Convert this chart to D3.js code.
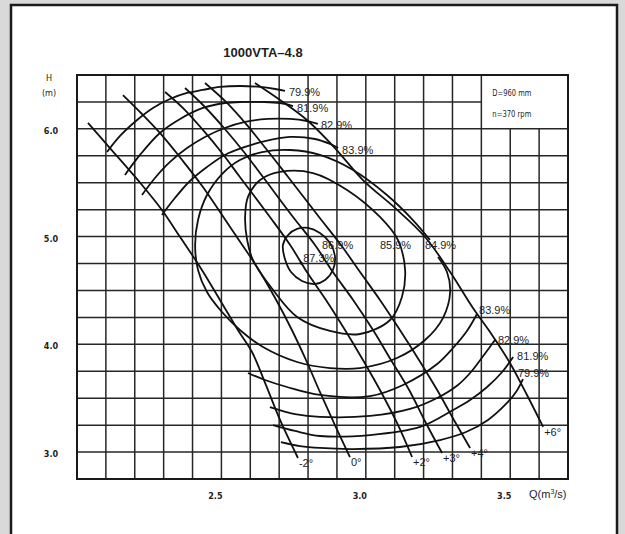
<!DOCTYPE html>
<html><head><meta charset="utf-8">
<script src="https://cdn.jsdelivr.net/npm/d3@7"></script>
<style>
html,body{margin:0;padding:0;background:#d9d9d9;}
svg{display:block;}
text{font-family:"Liberation Sans",Arial,sans-serif;fill:#1e1e1e;}
.narrow{font-family:"Liberation Sans Narrow","Arial Narrow","DejaVu Sans Condensed",sans-serif;}
</style></head>
<body>
<svg id="chart" width="625" height="534"></svg>
<script>
// ---------------- DATA ----------------
const title = "1000VTA\u20134.8";
const qTickLabels = [2.5, 3.0, 3.5];
const hTickLabels = [3.0, 4.0, 5.0, 6.0];
const specs = ["D=960 mm", "n=370 rpm"];

// blade-angle lines [Q (m3/s), H (m)]
const bladeLabels = ["-2\u00b0", "0\u00b0", "+2\u00b0", "+3\u00b0", "+4\u00b0", "+6\u00b0"];
const bladeM2 = [[2.038,6.055],[2.114,5.822],[2.225,5.479],[2.294,5.247],[2.357,4.996],[2.426,4.718],[2.495,4.412],[2.557,4.133],[2.606,3.929],[2.654,3.623],[2.703,3.298],[2.765,2.945]];
const blade0 = [[2.159,6.314],[2.225,6.138],[2.287,5.962],[2.364,5.711],[2.436,5.460],[2.530,5.089],[2.623,4.718],[2.686,4.430],[2.744,4.133],[2.796,3.836],[2.841,3.558],[2.893,3.251],[2.945,2.954]];
const bladeP2 = [[2.305,6.342],[2.374,6.175],[2.436,5.990],[2.502,5.776],[2.564,5.553],[2.668,5.182],[2.738,4.922],[2.796,4.671],[2.862,4.412],[2.928,4.133],[2.990,3.855],[3.049,3.576],[3.108,3.270],[3.160,2.954]];
const bladeP3 = [[2.374,6.379],[2.443,6.203],[2.509,6.008],[2.578,5.785],[2.644,5.553],[2.748,5.182],[2.824,4.922],[2.886,4.671],[2.956,4.412],[3.025,4.133],[3.087,3.855],[3.150,3.576],[3.208,3.270],[3.264,2.991]];
const bladeP4 = [[2.443,6.426],[2.516,6.250],[2.585,6.046],[2.658,5.804],[2.731,5.553],[2.838,5.182],[2.914,4.922],[2.980,4.671],[3.049,4.412],[3.118,4.133],[3.184,3.855],[3.247,3.576],[3.305,3.298],[3.361,3.038]];
const bladeP6 = [[2.616,6.426],[2.703,6.268],[2.796,6.082],[2.893,5.822],[2.990,5.525],[3.101,5.266],[3.205,4.996],[3.292,4.671],[3.371,4.337],[3.437,4.087],[3.499,3.827],[3.558,3.530],[3.614,3.233]];

// efficiency contours
const effLabels = ["79.9%", "81.9%", "82.9%", "83.9%", "84.9%", "85.9%", "86.9%", "87.3%"];
const eff799Top = [[2.104,5.785],[2.149,5.934],[2.208,6.082],[2.263,6.194],[2.322,6.277],[2.381,6.333],[2.436,6.361],[2.495,6.389],[2.564,6.398],[2.634,6.389],[2.686,6.370],[2.720,6.352]];
const eff819Top = [[2.166,5.572],[2.218,5.758],[2.287,5.962],[2.357,6.092],[2.436,6.194],[2.512,6.240],[2.575,6.250],[2.641,6.250],[2.703,6.240],[2.748,6.212]];
const eff829Top = [[2.225,5.386],[2.270,5.544],[2.322,5.693],[2.381,5.822],[2.443,5.925],[2.512,6.008],[2.582,6.064],[2.661,6.092],[2.738,6.092],[2.796,6.073],[2.834,6.046]];
const eff839Top = [[2.294,5.201],[2.339,5.358],[2.391,5.516],[2.450,5.646],[2.512,5.758],[2.582,5.832],[2.651,5.887],[2.738,5.925],[2.824,5.906],[2.876,5.860],[2.904,5.822]];
const eff839Bot = [[2.592,3.734],[2.651,3.669],[2.727,3.604],[2.841,3.530],[3.015,3.520],[3.129,3.623],[3.247,3.817],[3.302,3.966],[3.350,4.124],[3.385,4.282]];
const eff829Bot = [[2.668,3.418],[2.755,3.353],[2.841,3.326],[3.015,3.335],[3.153,3.400],[3.247,3.502],[3.319,3.623],[3.361,3.734],[3.409,3.901],[3.447,4.040]];
const eff819Bot = [[2.679,3.251],[2.755,3.196],[2.841,3.149],[3.015,3.158],[3.188,3.233],[3.302,3.390],[3.361,3.483],[3.420,3.604],[3.472,3.743],[3.510,3.882]];
const eff799Bot = [[2.706,3.093],[2.772,3.056],[2.841,3.038],[2.956,3.028],[3.118,3.047],[3.257,3.112],[3.347,3.186],[3.423,3.298],[3.482,3.437],[3.520,3.558],[3.544,3.678]];
const eff849 = [[3.222,4.969],[3.163,5.154],[3.073,5.386],[2.956,5.618],[2.841,5.758],[2.738,5.804],[2.641,5.785],[2.564,5.711],[2.502,5.581],[2.450,5.386],[2.419,5.154],[2.409,4.922],[2.419,4.690],[2.450,4.486],[2.502,4.300],[2.564,4.133],[2.644,3.975],[2.762,3.836],[2.876,3.780],[2.980,3.780],[3.108,3.873],[3.205,4.040],[3.267,4.244],[3.292,4.486],[3.281,4.671],[3.250,4.811]];
const eff859 = [[3.111,4.969],[3.049,5.182],[2.935,5.433],[2.817,5.590],[2.703,5.600],[2.634,5.525],[2.592,5.368],[2.582,5.182],[2.589,4.969],[2.609,4.783],[2.679,4.504],[2.762,4.254],[2.876,4.124],[2.980,4.096],[3.084,4.226],[3.125,4.439],[3.136,4.690]];
const eff869 = [[2.713,4.922],[2.731,5.015],[2.762,5.071],[2.800,5.080],[2.841,5.033],[2.876,4.941],[2.893,4.820],[2.886,4.690],[2.859,4.597],[2.824,4.560],[2.779,4.588],[2.741,4.671],[2.720,4.792]];
const bestPoint = [2.776, 4.755];

// ---------------- CHART ----------------
const svg = d3.select("#chart");
const x = d3.scaleLinear().domain([2.0, 3.7]).range([77, 568]);
const y = d3.scaleLinear().domain([2.75, 6.5]).range([479, 75]);

// page
svg.append("rect").attr("x",0).attr("y",0).attr("width",625).attr("height",534).attr("fill","#d9d9d9");
svg.append("rect").attr("x",11).attr("y",5).attr("width",606).attr("height",540)
  .attr("fill","#fff").attr("stroke","#1b1b1b").attr("stroke-width",2.5);

// title
svg.append("text").attr("x",263).attr("y",57).attr("text-anchor","middle")
  .attr("font-size",13).attr("font-weight","bold").text(title);

// grid
const g = svg.append("g");
const gridColor = "#262626";
const boxQ = 3.4, boxH = 6.0;
d3.range(1,17).map(i => 2.0 + i*0.1).forEach(q => {
  const top = q > boxQ + 0.05 ? y(boxH) : y(6.5);
  g.append("line").attr("x1",x(q)).attr("x2",x(q)).attr("y1",top).attr("y2",y(2.75))
    .attr("stroke",gridColor).attr("stroke-width",1.5);
});
d3.range(1,15).map(i => 2.75 + i*0.25).forEach(h => {
  const right = h > boxH + 0.1 ? x(boxQ) : x(3.7);
  g.append("line").attr("x1",x(2.0)).attr("x2",right).attr("y1",y(h)).attr("y2",y(h))
    .attr("stroke",gridColor).attr("stroke-width",1.5);
});
g.append("rect").attr("x",x(2.0)).attr("y",y(6.5)).attr("width",x(3.7)-x(2.0)).attr("height",y(2.75)-y(6.5))
  .attr("fill","none").attr("stroke","#1a1a1a").attr("stroke-width",2);

// spec box text
specs.forEach((s,i) => {
  svg.append("text").attr("class","narrow").attr("x",x(boxQ)+11).attr("y",y(6.5)+21+i*21)
    .attr("font-size",9).attr("textLength",39).attr("lengthAdjust","spacingAndGlyphs").text(s);
});

// axis labels
qTickLabels.forEach(q => {
  svg.append("text").attr("class","narrow").attr("x",x(q)-6).attr("y",499)
    .attr("text-anchor","middle").attr("font-size",9).attr("font-weight","bold").text(d3.format(".1f")(q));
});
hTickLabels.forEach(h => {
  svg.append("text").attr("class","narrow").attr("x",51).attr("y",y(h)+5)
    .attr("text-anchor","middle").attr("font-size",9).attr("font-weight","bold").text(d3.format(".1f")(h));
});
svg.append("text").attr("class","narrow").attr("x",49).attr("y",81).attr("text-anchor","middle").attr("font-size",9).text("H");
svg.append("text").attr("class","narrow").attr("x",49).attr("y",96).attr("text-anchor","middle").attr("font-size",9).text("(m)");
const qt = svg.append("text").attr("x",529).attr("y",498).attr("font-size",11);
qt.append("tspan").text("Q(m");
qt.append("tspan").attr("font-size",7).attr("dy",-4).text("3");
qt.append("tspan").attr("dy",4).text("/s)");

// curves
const line = d3.line().x(d => x(d[0])).y(d => y(d[1])).curve(d3.curveCatmullRom.alpha(0.5));
const closed = d3.line().x(d => x(d[0])).y(d => y(d[1])).curve(d3.curveCatmullRomClosed.alpha(0.5));
const cg = svg.append("g").attr("fill","none").attr("stroke","#111").attr("stroke-width",1.8);

const blades = [bladeM2, blade0, bladeP2, bladeP3, bladeP4, bladeP6];
blades.forEach(b => cg.append("path").attr("d", line(b)));

const openCurves = [eff799Top, eff819Top, eff829Top, eff839Top, eff839Bot, eff829Bot, eff819Bot, eff799Bot, eff849];
openCurves.forEach(c => cg.append("path").attr("d", line(c)));
cg.append("path").attr("d", closed(eff859));
cg.append("path").attr("d", closed(eff869));

// blade labels
const lt = svg.append("g").attr("font-size",11);
blades.forEach((b,i) => {
  const e = b[b.length-1];
  lt.append("text").attr("x",x(e[0])+1).attr("y",y(e[1])+9).text(bladeLabels[i]);
});

// efficiency labels
const el = svg.append("g").attr("font-size",11);
function lab(pt, dx, dy, t){ el.append("text").attr("x",x(pt[0])+dx).attr("y",y(pt[1])+dy).text(t); }
const last = a => a[a.length-1];
lab(last(eff799Top), 4, 5, effLabels[0]);
lab(last(eff819Top), 4, 6, effLabels[1]);
lab(last(eff829Top), 3, 5, effLabels[2]);
lab(last(eff839Top), 4, 6, effLabels[3]);
lab(last(eff839Bot), 2, 0, effLabels[3]);
lab(last(eff829Bot), 3, 4, effLabels[2]);
lab(last(eff819Bot), 4, 3, effLabels[1]);
lab(last(eff799Bot), -5, -2, effLabels[0]);
lab(eff849[0], -5, 9, effLabels[4]);
lab(eff859[0], -18, 9, effLabels[5]);
lab(eff869[5], -8, 6, effLabels[6]);
svg.append("circle").attr("cx",x(bestPoint[0])).attr("cy",y(bestPoint[1])).attr("r",1.6).attr("fill","#111");
lab(bestPoint, 2, -1, effLabels[7]);
</script>
</body></html>
